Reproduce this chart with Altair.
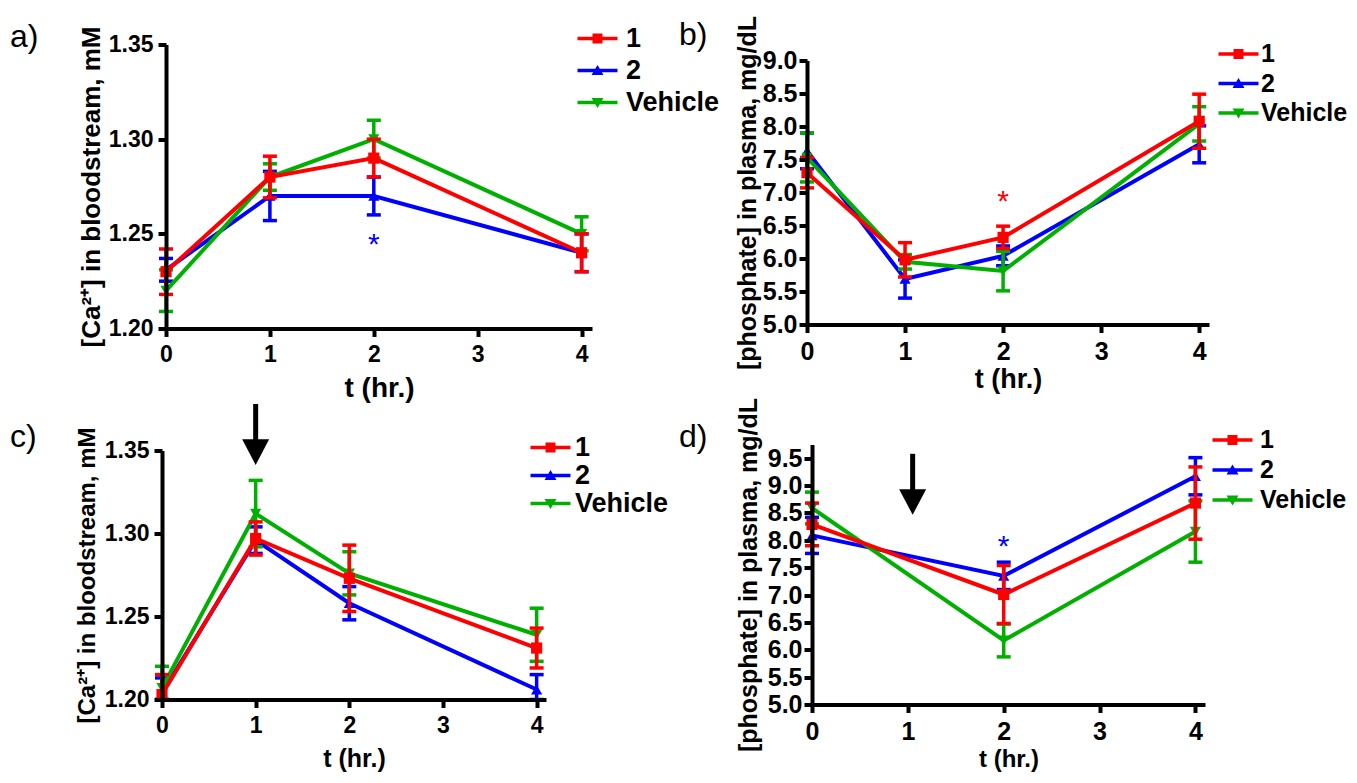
import altair as alt
import pandas as pd

FONT = "Liberation Sans, Arial, Helvetica, sans-serif"

SERIES = ["1", "2", "Vehicle"]
COLORS = ["#ff0000", "#0000ff", "#00b000"]
DRAW_ORDER = ["2", "Vehicle", "1"]
MARKERS = ["square", "triangle-up", "triangle-down"]
LEG_PATHS = [
    "M-2,-0.18H2V0.18H-2Z M-0.5,-0.5H0.5V0.5H-0.5Z",
    "M-2,-0.18H2V0.18H-2Z M0,-0.55L0.6,0.45L-0.6,0.45Z",
    "M-2,-0.18H2V0.18H-2Z M0,0.55L-0.6,-0.45L0.6,-0.45Z",
]
HEAD_PATH = "M-1,-0.95L1,-0.95L0,0.95Z"

X_TICKS = [0, 1, 2, 3, 4]
T_ABC = [0, 1, 2, 4]
T_D = [0, 2, 4]

# panel a: [Ca2+], mM
A_1 = [1.230, 1.280, 1.290, 1.240]
A_1_ERR = [0.012, 0.011, 0.010, 0.010]
A_2 = [1.231, 1.270, 1.270, 1.240]
A_2_ERR = [0.006, 0.013, 0.010, 0.010]
A_V = [1.220, 1.280, 1.300, 1.250]
A_V_ERR = [0.011, 0.007, 0.010, 0.009]

# panel b: phosphate, mg/dL
B_1 = [7.30, 5.98, 6.32, 8.08]
B_1_ERR = [0.23, 0.26, 0.17, 0.41]
B_2 = [7.63, 5.69, 6.04, 7.73]
B_2_ERR = [0.27, 0.29, 0.15, 0.28]
B_V = [7.53, 5.95, 5.81, 8.04]
B_V_ERR = [0.37, 0.11, 0.30, 0.26]

# panel c: [Ca2+], mM
C_1 = [1.203, 1.297, 1.273, 1.231]
C_1_ERR = [0.012, 0.010, 0.020, 0.012]
C_2 = [1.204, 1.296, 1.258, 1.206]
C_2_ERR = [0.009, 0.008, 0.010, 0.009]
C_V = [1.207, 1.312, 1.276, 1.239]
C_V_ERR = [0.013, 0.020, 0.013, 0.016]

# panel d: phosphate, mg/dL
D_1 = [8.29, 7.01, 8.68]
D_1_ERR = [0.39, 0.53, 0.66]
D_2 = [8.09, 7.35, 9.17]
D_2_ERR = [0.33, 0.25, 0.34]
D_V = [8.59, 6.17, 8.16]
D_V_ERR = [0.29, 0.30, 0.56]

# significance stars (t, value, series)
STAR_A = [2, 1.2485, "2"]
STAR_B = [2, 6.97, "1"]
STAR_D = [2, 8.02, "2"]

# dosing arrows (t, shaft top, shaft bottom, head centre)
ARROW_C = [1.0, 1.378, 1.352, 1.349]
ARROW_D = [1.05, 9.58, 8.85, 8.70]

COLOR_OF = dict(zip(SERIES, COLORS))
MARK_OF = dict(zip(SERIES, MARKERS))


def make_df(times, means, errs, ymin):
    rows = []
    for s, m_list, e_list in zip(SERIES, means, errs):
        for t, m, e in zip(times, m_list, e_list):
            rows.append({"t": t, "series": s, "mean": m,
                         "lo": max(m - e, ymin), "hi": m + e})
    return pd.DataFrame(rows)


def panel(df, ydom, yvals, yfmt, ytitle, W, H, xr, yr, yoff,
          xts, yts, xtp, ytp, lfs, ylp, xlp, label, tdx, tdy,
          lx, ly, lrp, llo, lgfs, star=None, arrow=None):
    xscale = alt.Scale(domain=[0, 4.1], range=xr, nice=False, zero=False)
    yscale = alt.Scale(domain=ydom, range=yr, nice=False, zero=False)
    common = dict(grid=False, domainColor="black", domainWidth=4,
                  tickColor="black", tickWidth=4, tickSize=8,
                  labelFont=FONT, labelFontSize=lfs, labelFontWeight="bold",
                  labelColor="black", labelFlush=False, labelOverlap=False,
                  titleFont=FONT, titleFontWeight="bold", titleColor="black",
                  zindex=1)
    xaxis = alt.Axis(values=X_TICKS, format="d", title="t (hr.)",
                     labelPadding=xlp, titleFontSize=xts, titlePadding=xtp,
                     **common)
    yaxis = alt.Axis(values=yvals, format=yfmt, title=ytitle, offset=yoff,
                     labelPadding=ylp, titleFontSize=yts, titlePadding=ytp,
                     **common)

    def X(f="t"):
        return alt.X(f"{f}:Q", scale=xscale, axis=xaxis)

    def Y(f):
        return alt.Y(f"{f}:Q", scale=yscale, axis=yaxis)

    layers = []
    for s in DRAW_ORDER:
        c = COLOR_OF[s]
        base = alt.Chart(df).transform_filter(alt.datum.series == s)
        layers += [
            base.mark_rule(color=c, strokeWidth=3.5).encode(
                x=X(), y=Y("lo"), y2=alt.Y2("hi:Q")),
            base.mark_tick(orient="horizontal", color=c, size=14,
                           thickness=3.5, opacity=1).encode(x=X(), y=Y("lo")),
            base.mark_tick(orient="horizontal", color=c, size=14,
                           thickness=3.5, opacity=1).encode(x=X(), y=Y("hi")),
            base.mark_line(color=c, strokeWidth=4).encode(
                x=X(), y=Y("mean")),
            base.mark_point(shape=MARK_OF[s], filled=True, size=125,
                            color=c, opacity=1).encode(x=X(), y=Y("mean")),
        ]
    if star is not None:
        sdf = pd.DataFrame({"t": [star[0]], "y": [star[1]]})
        layers.append(
            alt.Chart(sdf).mark_text(text="*", font=FONT, fontSize=30,
                                     color=COLOR_OF[star[2]],
                                     baseline="middle", dy=8)
            .encode(x=X(), y=Y("y")))
    if arrow is not None:
        adf = pd.DataFrame({"t": [arrow[0]], "top": [arrow[1]],
                            "bot": [arrow[2]], "head": [arrow[3]]})
        layers.append(alt.Chart(adf).mark_rule(color="black", strokeWidth=5)
                      .encode(x=X(), y=Y("top"), y2=alt.Y2("bot:Q")))
        layers.append(alt.Chart(adf).mark_point(shape=HEAD_PATH, filled=True,
                                                color="black", size=729,
                                                opacity=1)
                      .encode(x=X(), y=Y("head")))
    leg = alt.Legend(title=None, orient="none", legendX=lx, legendY=ly,
                     symbolSize=400, symbolStrokeWidth=0, symbolOpacity=1,
                     labelFont=FONT, labelFontSize=lgfs,
                     labelFontWeight="bold",
                     labelColor="black", labelOffset=llo, rowPadding=lrp,
                     padding=0, labelLimit=300)
    layers.append(
        alt.Chart(df).transform_filter("false")
        .mark_point(filled=True, opacity=1)
        .encode(color=alt.Color("series:N",
                                scale=alt.Scale(domain=SERIES, range=COLORS),
                                legend=leg),
                shape=alt.Shape("series:N",
                                scale=alt.Scale(domain=SERIES, range=LEG_PATHS),
                                legend=leg)))
    return alt.layer(*layers).properties(
        width=W, height=H,
        title=alt.TitleParams(text=label, anchor="start", frame="group",
                              orient="top", offset=0, dx=tdx, dy=tdy,
                              font=FONT, fontSize=32, fontWeight="normal",
                              color="black"))


df_a = make_df(T_ABC, [A_1, A_2, A_V], [A_1_ERR, A_2_ERR, A_V_ERR], 1.20)
df_b = make_df(T_ABC, [B_1, B_2, B_V], [B_1_ERR, B_2_ERR, B_V_ERR], 5.0)
df_c = make_df(T_ABC, [C_1, C_2, C_V], [C_1_ERR, C_2_ERR, C_V_ERR], 1.20)
df_d = make_df(T_D, [D_1, D_2, D_V], [D_1_ERR, D_2_ERR, D_V_ERR], 5.0)

CA_TICKS = [1.20, 1.25, 1.30, 1.35]
PB_TICKS = [5.0, 5.5, 6.0, 6.5, 7.0, 7.5, 8.0, 8.5, 9.0]
PD_TICKS = [5.0, 5.5, 6.0, 6.5, 7.0, 7.5, 8.0, 8.5, 9.0, 9.5]
CA_TITLE = "[Ca\u00b2\u207a] in bloodstream, mM"
P_TITLE = "[phosphate] in plasma, mg/dL"

pa = panel(df_a, [1.20, 1.35], CA_TICKS, ".2f", CA_TITLE, 430, 284,
           [4, 430], [284, 0], -4, 28, 26, 7.5, 4, 23, 5, 7, "a)", -152, 28.5,
           422, -19.5, 4, 15, 27, star=STAR_A)
pb = panel(df_b, [5.0, 9.0], PB_TICKS, ".1f", P_TITLE, 402, 280,
           [0, 402], [280, 16], 0, 27, 25, 1.5, 2, 25, 2, 7, "b)", -128, 36.5,
           419, -3, 3.5, 10, 25, star=STAR_B)
pc = panel(df_c, [1.20, 1.35], CA_TICKS, ".2f", CA_TITLE, 384, 255,
           [0, 384], [255, 6], 0, 25, 24, 9, 5, 23, 5, 7, "c)", -152, 52.5,
           375, -10.5, 0, 11, 27, arrow=ARROW_C)
pd_ = panel(df_d, [5.0, 9.75], PD_TICKS, ".1f", P_TITLE, 398, 260,
            [5, 398], [260, 0], -5, 24, 25, 3, 6, 25, 2, 7, "d)", -128, 56.5,
            413, -17, 4, 15, 25, star=STAR_D, arrow=ARROW_D)

chart = (
    alt.concat(pa, pb, pc, pd_, columns=2,
               spacing={"row": 116, "column": 215},
               bounds="flush", align="all")
    .resolve_scale(x="independent", y="independent",
                   color="independent", shape="independent")
    .properties(padding={"left": 2, "top": 6.5, "right": 0, "bottom": 0},
                background="white")
    .configure_view(stroke=None)
)

chart.save("out.html", embed_options={"renderer": "svg", "actions": False})
